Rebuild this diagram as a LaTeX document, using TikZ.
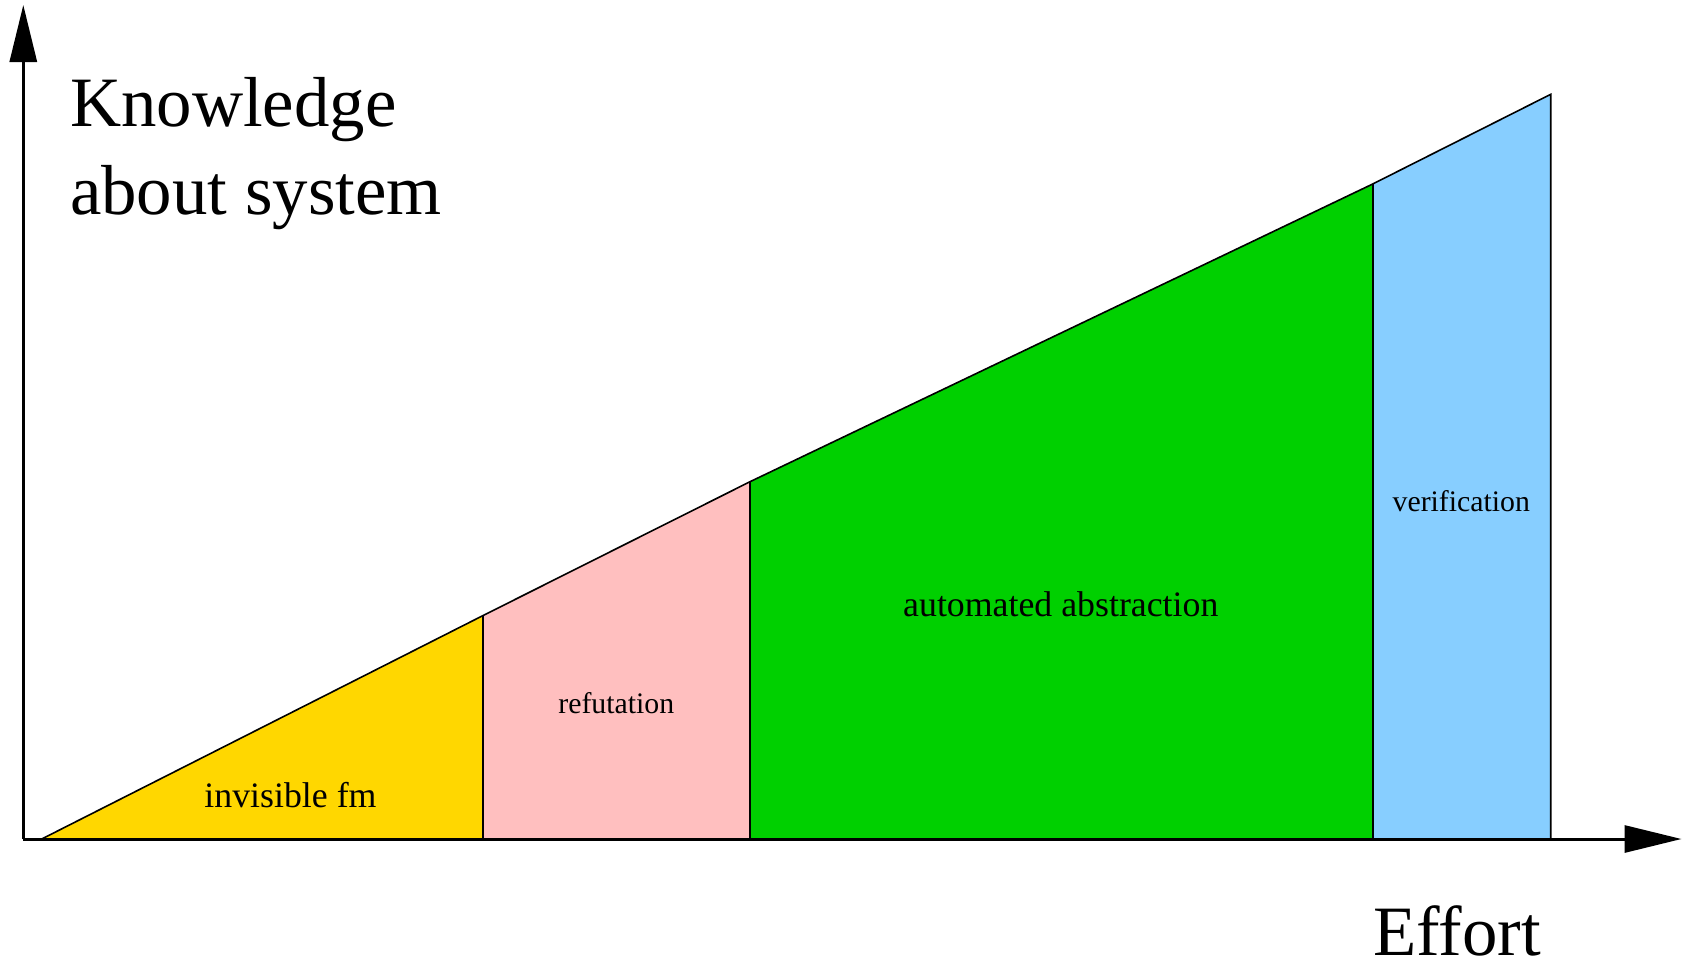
\documentclass[tikz,border=0pt]{standalone}
\usepackage{fontspec}
\setmainfont{Liberation Serif}
\usetikzlibrary{arrows.meta}
\definecolor{cgold}{HTML}{FFD700}
\definecolor{cpink}{HTML}{FFBFBF}
\definecolor{cgreen}{HTML}{00D000}
\definecolor{cblue}{HTML}{87CEFF}
\begin{document}
\begin{tikzpicture}[x=0.5pt,y=-0.5pt,
  region/.style={draw=black,line width=0.8pt,line join=miter},
  axis/.style={line width=1.5pt,-{Triangle[length=28.5pt,width=13.5pt]}},
  biglabel/.style={inner sep=0pt,anchor=base west,font=\fontsize{35.4}{42}\selectfont},
  smalllabel/.style={inner sep=0pt,anchor=base,font=\fontsize{17.9}{22}\selectfont},
  tinylabel/.style={inner sep=0pt,anchor=base,font=\fontsize{14.9}{18}\selectfont}]
\useasboundingbox (0,0) rectangle (1682,964);
\coordinate (o) at (23.3,839);
\coordinate (s) at (41.7,839);
\coordinate (b1) at (482.7,839);
\coordinate (t1) at (482.7,615.7);
\coordinate (b2) at (750,839);
\coordinate (t2) at (750,481.7);
\coordinate (b3) at (1372.7,839);
\coordinate (t3) at (1372.7,184);
\coordinate (b4) at (1550.7,839);
\coordinate (t4) at (1550.7,94.3);
\coordinate (ytip) at (23.3,5);
\coordinate (xtip) at (1681.5,839);
\fill[cgold] (s) -- (t1) -- (b1) -- cycle;
\fill[cpink] (b1) -- (t1) -- (t2) -- (b2) -- cycle;
\fill[cgreen] (b2) -- (t2) -- (t3) -- (b3) -- cycle;
\fill[cblue] (b3) -- (t3) -- (t4) -- (b4) -- cycle;
\draw[region] (s) -- (t1) -- (t2) -- (t3) -- (t4) -- (b4);
\draw[region] (b1) -- (t1);
\draw[region] (b2) -- (t2);
\draw[region] (b3) -- (t3);
\draw[axis] (o) -- (ytip);
\draw[axis] (o) -- (xtip);
\node[biglabel] (k1) at (69.7,126.6) {Knowledge};
\node[biglabel] (k2) at (69.7,214.5) {about system};
\node[biglabel] (eff) at (1373,955) {Effort};
\node[smalllabel] (inv) at (290.5,807.7) {invisible fm};
\node[tinylabel] (ref) at (616.3,713.3) {refutation};
\node[smalllabel] (aut) at (1060.8,616) {automated abstraction};
\node[tinylabel] (ver) at (1461.3,511) {verification};
\end{tikzpicture}
\end{document}
